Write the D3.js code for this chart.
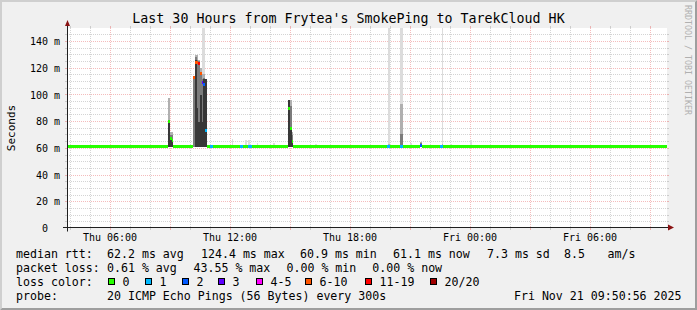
<!DOCTYPE html>
<html>
<head>
<meta charset="utf-8">
<script src="https://cdn.jsdelivr.net/npm/d3@7"></script>
<style>
  html, body { margin: 0; padding: 0; background: #f0f0f0; }
  svg { display: block; }
  text { font-family: "DejaVu Sans Mono", monospace; }
</style>
</head>
<body>
<div id="chart"></div>
<script>
// ---- data ----
const titleText = "Last 30 Hours from Frytea's SmokePing to TarekCloud HK";
const rangeStart = "20 03:50:56";
const rangeEnd = "21 09:50:56";

const yTicks = [0, 20, 40, 60, 80, 100, 120, 140];
const yTickLabels = ["0", "20 m", "40 m", "60 m", "80 m", "100 m", "120 m", "140 m"];

// median rtt baseline (ms), step changes
const baseTimes = ["20 03:50", "20 09:30", "20 18:00", "21 04:00"];
const baseValues = [61.2, 61.3, 61.2, 61.2];

// 5 minute samples where median / loss differ from the baseline
const eventSlots = [
  "20 08:55", "20 09:00", "20 09:05",
  "20 10:10", "20 10:15", "20 10:20", "20 10:25", "20 10:30", "20 10:35", "20 10:40", "20 10:45",
  "20 11:00", "20 11:05", "20 12:30", "20 12:35", "20 12:55", "20 13:00",
  "20 14:55", "20 15:00", "20 15:05",
  "20 19:50", "20 19:55", "20 20:30", "20 20:35", "20 21:30", "20 22:30", "20 22:35"
];
const eventMedian = [
  80, 67, 66,
  113, 124, 124, 123.5, 116, 109, 108, 73,
  61.2, 61.2, 61.2, 61.2, 61.2, 61.2,
  90, 75, 65,
  61.2, 61.2, 61.2, 61.2, 62, 61.2, 61.2
];
const eventLoss = [
  0, 0, 0,
  7, 7, 8, 12, 7, 3, 2, 1,
  1, 1, 1, 1, 1, 1,
  0, 0, 0,
  1, 1, 1, 1, 2, 1, 1
];

// smoke columns (ms): tops of dark / mid / light / outer bands
const smokeSlots = [
  "20 08:55", "20 09:00", "20 09:05",
  "20 10:10", "20 10:15", "20 10:20", "20 10:25", "20 10:30", "20 10:35", "20 10:40", "20 10:45",
  "20 12:05", "20 12:45", "20 12:55", "20 13:20", "20 14:10",
  "20 14:55", "20 15:00", "20 15:05", "20 16:15",
  "20 19:55", "20 20:30", "20 20:35", "20 21:00", "20 21:30", "20 22:35", "20 23:00", "21 00:00"
];
const smokeDark = [
  81, 66, 67,
  61, 126, 90, 80, 100, 80, 112, 112,
  61, 61, 61, 61, 61,
  96, 76, 66, 61,
  61, 61, 61, 61, 63, 61, 61, 61
];
const smokeMid = [
  81, 70, 70,
  112, 128, 126, 125.7, 116, 112, 113, 112,
  61, 61, 61, 61, 61,
  96, 92, 70, 61,
  62, 71, 71, 61, 64, 62, 61, 61
];
const smokeLight = [
  98, 72, 72,
  114.5, 129.5, 129.5, 126, 120, 116, 116, 112,
  61, 61, 61, 61, 61,
  96, 96, 72, 61,
  63, 93, 93, 61, 65, 63, 61, 61
];
const smokeMax = [
  98, 72, 72,
  114.5, 129.5, 129.5, 126, 120, 160, 160, 112,
  67, 66, 66, 64, 64,
  96, 96, 72, 63.5,
  160, 160, 160, 64, 65, 160, 63.5, 66.5
];
const smokeMin = 60.9;

const lossBins = [0, 1, 2, 3, 5, 10, 19, 20];
const lossLabels = ["0", "1", "2", "3", "4-5", "6-10", "11-19", "20/20"];
const lossColors = ["#26ff00", "#00b8ff", "#0059ff", "#5e00ff", "#ff00ff", "#ff5500", "#ff0000", "#a10000"];

const rttLabels = ["median rtt:", "62.2 ms avg", "124.4 ms max", "60.9 ms min", "61.1 ms now", "7.3 ms sd", "8.5", "am/s"];
const lossStatLabels = ["packet loss:", "0.61 % avg", "43.55 % max", "0.00 % min", "0.00 % now"];
const probeLabels = ["probe:", "20 ICMP Echo Pings (56 Bytes) every 300s"];
const stampText = "Fri Nov 21 09:50:56 2025";

// ---- layout ----
const W = 697, H = 310;
const pL = 67, pR = 667, pB = 228.5, pT = 28.1;

const parseFull = d3.utcParse("%Y-%m-%d %H:%M:%S");
const parseSlot = d3.utcParse("%Y-%m-%d %H:%M");
const day = (s) => "2025-11-" + s;
const px = (v) => Math.floor(v + 1e-6) + 0.5;

const t0 = parseFull(day(rangeStart));
const t1 = parseFull(day(rangeEnd));

const x = d3.scaleUtc().domain([t0, t1]).range([pL, pR]);
const y = d3.scaleLinear().domain([0, 150]).range([pB, pT]);

const svg = d3.select("#chart").append("svg")
  .attr("width", W).attr("height", H);

// background + shaded frame
svg.append("rect").attr("width", W).attr("height", H).attr("fill", "#f0f0f0");
svg.append("path")
  .attr("d", `M0,0H${W}L${W - 2},2H2V${H - 2}L0,${H}Z`)
  .attr("fill", "#cfcfcf");
svg.append("path")
  .attr("d", `M0,${H}H${W}V0L${W - 2},2V${H - 2}H2Z`)
  .attr("fill", "#9e9e9e");

const yTop = Math.floor(pT);
const yBot = Math.floor(pB);

// canvas
svg.append("rect")
  .attr("x", pL).attr("y", yTop)
  .attr("width", pR - pL).attr("height", yBot - yTop)
  .attr("fill", "#ffffff");

svg.append("defs").append("clipPath").attr("id", "plot")
  .append("rect")
  .attr("x", pL).attr("y", yTop)
  .attr("width", pR - pL + 1).attr("height", yBot - yTop);

// grid
const gridMinor = "rgba(143,143,143,0.38)";
const gridMajor = "rgba(222,48,48,0.32)";
const grid = svg.append("g").attr("fill", "none").attr("stroke-width", 1);

const hours = d3.utcHour.every(1).range(t0, t1).filter((h) => x(h) > pL + 1);
hours.forEach((h) => {
  const xx = px(x(h));
  const c = h.getUTCHours() % 3 === 0 ? gridMajor : gridMinor;
  grid.append("line").attr("x1", xx).attr("x2", xx).attr("y1", yTop).attr("y2", yBot)
    .attr("stroke", c).attr("stroke-dasharray", "1,1");
  grid.append("line").attr("x1", xx).attr("x2", xx).attr("y1", yTop - 2).attr("y2", yTop)
    .attr("stroke", c);
  grid.append("line").attr("x1", xx).attr("x2", xx).attr("y1", yBot).attr("y2", yBot + 2)
    .attr("stroke", c);
});

d3.range(5, 150, 5).forEach((v) => {
  const yy = px(y(v));
  const c = v % 20 === 0 ? gridMajor : gridMinor;
  grid.append("line").attr("x1", pL).attr("x2", pR).attr("y1", yy).attr("y2", yy)
    .attr("stroke", c).attr("stroke-dasharray", "1,1");
  grid.append("line").attr("x1", pL - 2).attr("x2", pL).attr("y1", yy).attr("y2", yy)
    .attr("stroke", c);
  grid.append("line").attr("x1", pR).attr("x2", pR + 2).attr("y1", yy).attr("y2", yy)
    .attr("stroke", c);
});

// smoke
const plot = svg.append("g").attr("clip-path", "url(#plot)").attr("shape-rendering", "crispEdges");
const fiveMin = 5 * 60 * 1000;
const smokeShades = ["#dcdcdc", "#b0b0b0", "#7c7c7c", "#383838"];

smokeSlots.forEach((s, i) => {
  const t = parseSlot(day(s));
  const x0 = x(t), x1 = x(new Date(+t + fiveMin));
  [smokeMax[i], smokeLight[i], smokeMid[i], smokeDark[i]].forEach((v, k) => {
    if (v <= smokeMin + 0.2) return;
    const vv = Math.min(v, 152);
    plot.append("rect")
      .attr("x", x0).attr("width", x1 - x0)
      .attr("y", y(vv)).attr("height", y(smokeMin) - y(vv))
      .attr("fill", smokeShades[k]);
  });
});

// median line, coloured by loss
const baseDates = baseTimes.map((s) => parseSlot(day(s)));
const events = new Map(eventSlots.map((s, i) => [+parseSlot(day(s)), i]));
const slots = d3.utcMinute.every(5)
  .range(parseSlot(day("20 03:50")), t1)
  .filter((t) => +t + fiveMin <= +t1);

const lossColor = (n) => lossColors[d3.bisectLeft(lossBins, n)];

slots.forEach((t) => {
  let med = baseValues[Math.max(0, d3.bisectRight(baseDates, t) - 1)];
  let loss = 0;
  if (events.has(+t)) {
    const i = events.get(+t);
    med = eventMedian[i];
    loss = eventLoss[i];
  }
  const x0 = x(t), x1 = x(new Date(+t + fiveMin));
  plot.append("rect")
    .attr("x", x0).attr("width", x1 - x0)
    .attr("y", y(med) - 1.5).attr("height", 3)
    .attr("fill", lossColor(loss));
});

// axes
const axisColor = "#1f1f1f";
const arrowColor = "#8a1212";
svg.append("line")
  .attr("x1", pL - 4).attr("x2", pR + 6)
  .attr("y1", px(pB) - 1).attr("y2", px(pB) - 1)
  .attr("stroke", axisColor);
svg.append("line")
  .attr("x1", px(pL)).attr("x2", px(pL))
  .attr("y1", pB + 3).attr("y2", 22)
  .attr("stroke", axisColor);
svg.append("path")
  .attr("d", `M${pR + 1},${pB - 4}L${pR + 7},${pB - 1}L${pR + 1},${pB + 2}Z`)
  .attr("fill", arrowColor);
svg.append("path")
  .attr("d", `M${pL - 2},26L${pL + 0.5},20L${pL + 3},26Z`)
  .attr("fill", arrowColor);

// tick labels
const labels = svg.append("g").attr("fill", "#000").attr("font-size", 10);
yTicks.forEach((v, i) => {
  labels.append("text")
    .attr("x", v === 0 ? 48 : 60)
    .attr("y", y(v) + 3.6)
    .attr("text-anchor", "end")
    .text(yTickLabels[i]);
});

const fmt = d3.utcFormat("%a %H:%M");
hours.filter((h) => h.getUTCHours() % 6 === 0).forEach((h) => {
  labels.append("text")
    .attr("x", x(h))
    .attr("y", 241)
    .attr("text-anchor", "middle")
    .text(fmt(h));
});

// title, axis title, watermark
svg.append("text")
  .attr("x", W / 2).attr("y", 23)
  .attr("text-anchor", "middle")
  .attr("font-size", 13.3)
  .attr("fill", "#000")
  .text(titleText);

svg.append("text")
  .attr("transform", "translate(14.5,128) rotate(-90)")
  .attr("text-anchor", "middle")
  .attr("font-size", 11)
  .attr("fill", "#000")
  .text("Seconds");

svg.append("text")
  .attr("transform", "translate(685,5) rotate(90)")
  .attr("font-size", 8.3)
  .attr("fill", "#b0b0b0")
  .text("RRDTOOL / TOBI OETIKER");

// legend / stats
const legend = svg.append("g").attr("font-size", 11.6).attr("fill", "#000");
const rowY = [258.3, 272, 285.8, 299.6];

const rttCols = [16, 107, 201, 300, 393, 487, 564, 607.5];
rttLabels.forEach((s, i) => {
  legend.append("text").attr("x", rttCols[i]).attr("y", rowY[0]).text(s);
});

const lossCols = [16, 107, 193.5, 286.5, 372.3];
lossStatLabels.forEach((s, i) => {
  legend.append("text").attr("x", lossCols[i]).attr("y", rowY[1]).text(s);
});

legend.append("text").attr("x", 16).attr("y", rowY[2]).text("loss color:");
const swatchX = [108.5, 145.5, 182.5, 218.5, 256.5, 305.5, 365.5, 430.5];
lossLabels.forEach((s, i) => {
  legend.append("rect")
    .attr("x", swatchX[i]).attr("y", 278.5)
    .attr("width", 6).attr("height", 6)
    .attr("fill", lossColors[i])
    .attr("stroke", "#000");
  legend.append("text")
    .attr("x", swatchX[i] + 14).attr("y", rowY[2])
    .text(s);
});

const probeCols = [16, 107];
probeLabels.forEach((s, i) => {
  legend.append("text").attr("x", probeCols[i]).attr("y", rowY[3]).text(s);
});
legend.append("text")
  .attr("x", 681.5).attr("y", rowY[3])
  .attr("text-anchor", "end")
  .text(stampText);
</script>
</body>
</html>
